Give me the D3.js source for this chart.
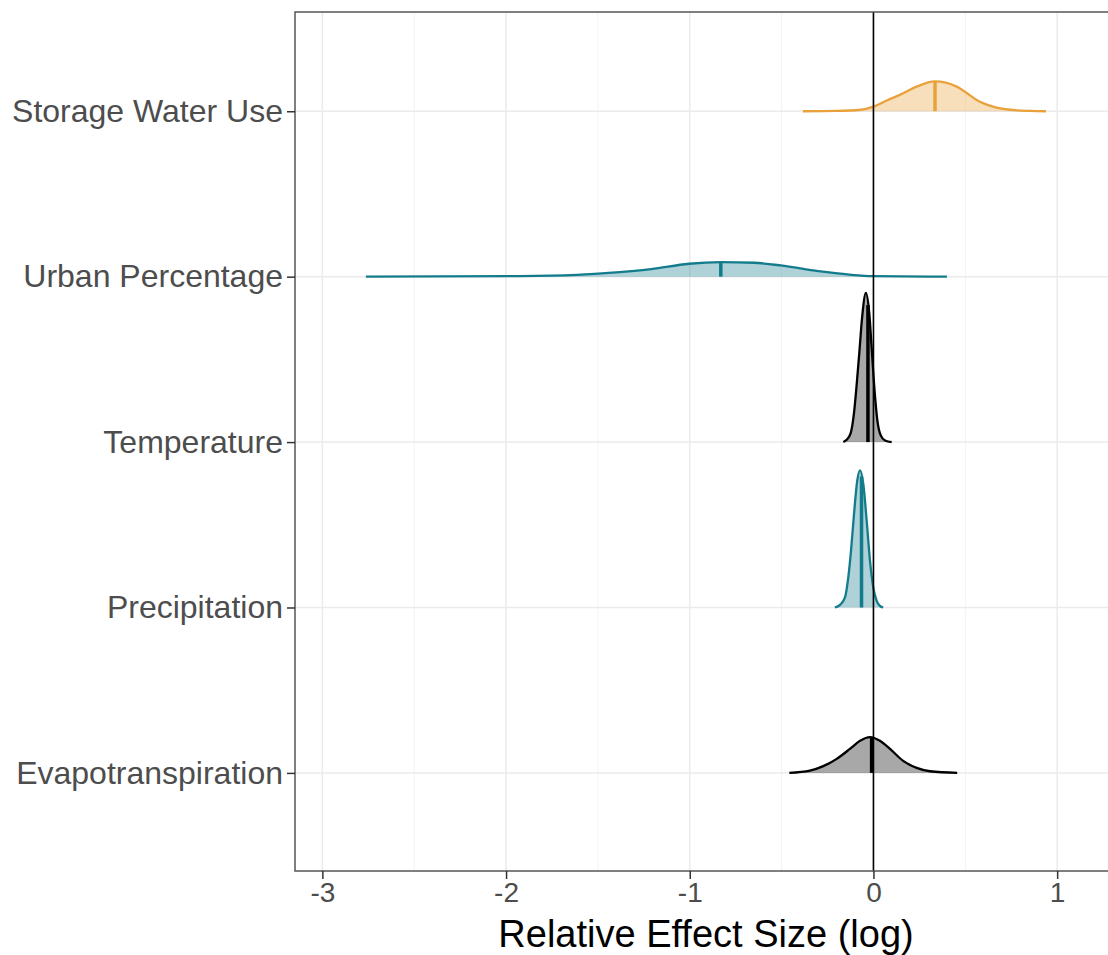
<!DOCTYPE html>
<html>
<head>
<meta charset="utf-8">
<script src="https://cdn.jsdelivr.net/npm/d3@7"></script>
<style>
  body { margin: 0; background: #fff; }
  svg { font-family: "Liberation Sans", Arial, sans-serif; }
</style>
</head>
<body>
<svg id="plot"></svg>
<script>
// rows, bottom to top
const categories = ["Evapotranspiration", "Precipitation", "Temperature", "Urban Percentage", "Storage Water Use"];
const groups = ["dark", "teal", "dark", "teal", "orange"];

// density outlines: [effect size, height in row units]
const evapoDensity = [[-0.458,0],[-0.346,0.014],[-0.273,0.041],[-0.2,0.085],[-0.128,0.145],[-0.073,0.194],[-0.019,0.216],[0.035,0.194],[0.09,0.145],[0.162,0.073],[0.235,0.03],[0.308,0.010],[0.456,0]];
const precipDensity = [[-0.210,0],[-0.182,0.016],[-0.155,0.061],[-0.137,0.182],[-0.122,0.345],[-0.106,0.563],[-0.088,0.769],[-0.073,0.829],[-0.055,0.744],[-0.037,0.526],[-0.019,0.284],[-0.001,0.121],[0.017,0.042],[0.035,0.010],[0.053,0]];
const tempDensity = [[-0.164,0],[-0.146,0.014],[-0.124,0.054],[-0.106,0.175],[-0.092,0.339],[-0.077,0.539],[-0.063,0.738],[-0.041,0.902],[-0.023,0.781],[-0.008,0.539],[0.007,0.297],[0.021,0.133],[0.039,0.042],[0.063,0.010],[0.099,0]];
const urbanDensity = [[-2.763,0],[-1.98,0.003],[-1.65,0.009],[-1.46,0.021],[-1.21,0.045],[-1.005,0.078],[-0.83,0.088],[-0.65,0.084],[-0.505,0.068],[-0.30,0.033],[-0.13,0.012],[0,0.003],[0.40,0]];
const storageDensity = [[-0.384,0],[-0.2,0.002],[-0.07,0.009],[0,0.028],[0.072,0.065],[0.144,0.099],[0.235,0.149],[0.335,0.18],[0.453,0.149],[0.51,0.109],[0.562,0.068],[0.651,0.028],[0.743,0.009],[0.852,0.002],[0.939,0]];
const densities = [evapoDensity, precipDensity, tempDensity, urbanDensity, storageDensity];

const medians = [-0.01, -0.065, -0.03, -0.831, 0.335];

const xTicks = [-3, -2, -1, 0, 1];
const xMinor = [-2.5, -1.5, -0.5, 0.5];

const W = 1108, H = 955;
const panel = { left: 295, top: 12, bottom: 871, right: 1140 };

const color = d3.scaleOrdinal()
  .domain(["orange", "teal", "dark"])
  .range(["#E9A23B", "#137C8C", "#000000"]);

const svg = d3.select("#plot")
  .attr("width", W)
  .attr("height", H);

const x = d3.scaleLinear()
  .domain([-3.149, 1.451])
  .range([panel.left, panel.right]);

const y = d3.scaleLinear()
  .domain([0.407, 5.6])
  .range([panel.bottom, panel.top]);

// gridlines
const grid = svg.append("g");
grid.selectAll(".minor")
  .data(xMinor)
  .enter().append("line")
    .attr("x1", d => x(d)).attr("x2", d => x(d))
    .attr("y1", panel.top).attr("y2", panel.bottom)
    .attr("stroke", "#f3f3f3")
    .attr("stroke-width", 1);
grid.selectAll(".major")
  .data(xTicks)
  .enter().append("line")
    .attr("x1", d => x(d)).attr("x2", d => x(d))
    .attr("y1", panel.top).attr("y2", panel.bottom)
    .attr("stroke", "#ebebeb")
    .attr("stroke-width", 1.5);
grid.selectAll(".hline")
  .data(categories)
  .enter().append("line")
    .attr("x1", panel.left).attr("x2", panel.right)
    .attr("y1", (d, i) => y(i + 1)).attr("y2", (d, i) => y(i + 1))
    .attr("stroke", "#ebebeb")
    .attr("stroke-width", 1.5);

// height at a given x by linear interpolation of the outline
function heightAt(pts, v) {
  for (let k = 1; k < pts.length; k++) {
    if (v <= pts[k][0]) {
      const t = (v - pts[k-1][0]) / (pts[k][0] - pts[k-1][0]);
      return pts[k-1][1] + t * (pts[k][1] - pts[k-1][1]);
    }
  }
  return 0;
}

// ridges, top row first so lower rows sit on top
const ridges = svg.append("g");
d3.range(categories.length).reverse().forEach(function(i) {
  const pts = densities[i];
  const c = color(groups[i]);
  const base = i + 1;

  const area = d3.area()
    .x(d => x(d[0]))
    .y0(y(base))
    .y1(d => y(base + d[1]))
    .curve(d3.curveMonotoneX);
  const line = d3.line()
    .x(d => x(d[0]))
    .y(d => y(base + d[1]))
    .curve(d3.curveMonotoneX);

  const g = ridges.append("g");
  g.append("path")
    .datum(pts)
    .attr("d", area)
    .attr("fill", c)
    .attr("fill-opacity", 0.34);

  g.append("line")
    .attr("x1", x(medians[i])).attr("x2", x(medians[i]))
    .attr("y1", y(base))
    .attr("y2", y(base + heightAt(pts, medians[i])))
    .attr("stroke", c)
    .attr("stroke-width", 3.5);

  g.append("path")
    .datum(pts)
    .attr("d", line)
    .attr("fill", "none")
    .attr("stroke", c)
    .attr("stroke-width", 2.3);
});

// zero line
svg.append("line")
  .attr("x1", x(0)).attr("x2", x(0))
  .attr("y1", panel.top).attr("y2", panel.bottom)
  .attr("stroke", "#000")
  .attr("stroke-width", 1.6);

// panel border
svg.append("rect")
  .attr("x", panel.left)
  .attr("y", panel.top)
  .attr("width", panel.right - panel.left)
  .attr("height", panel.bottom - panel.top)
  .attr("fill", "none")
  .attr("stroke", "#555")
  .attr("stroke-width", 1.5);

// X Axis
const xAxis = svg.append("g")
  .attr("transform", `translate(0,${panel.bottom})`)
  .call(d3.axisBottom(x).tickValues(xTicks).tickFormat(d => String(d)).tickSizeInner(8).tickSizeOuter(0).tickPadding(3));
xAxis.select(".domain").remove();
xAxis.selectAll("line").attr("stroke", "#333").attr("stroke-width", 1.5);
xAxis.selectAll("text")
  .attr("fill", "#4d4d4d")
  .style("font-size", "28px")
  .style("font-family", "Liberation Sans, Arial, sans-serif");

// Y Axis
const yAxis = svg.append("g")
  .attr("transform", `translate(${panel.left},0)`)
  .call(d3.axisLeft(y).tickValues(d3.range(1, categories.length + 1)).tickFormat(d => categories[d - 1]).tickSizeInner(8).tickSizeOuter(0).tickPadding(4));
yAxis.select(".domain").remove();
yAxis.selectAll("line").attr("stroke", "#333").attr("stroke-width", 1.5);
yAxis.selectAll("text")
  .attr("fill", "#4d4d4d")
  .style("font-size", "32px")
  .style("font-family", "Liberation Sans, Arial, sans-serif");

// X Axis Label
svg.append("text")
  .attr("x", 706)
  .attr("y", 947)
  .style("text-anchor", "middle")
  .style("font-size", "38px")
  .attr("fill", "#000")
  .text("Relative Effect Size (log)");
</script>
</body>
</html>
